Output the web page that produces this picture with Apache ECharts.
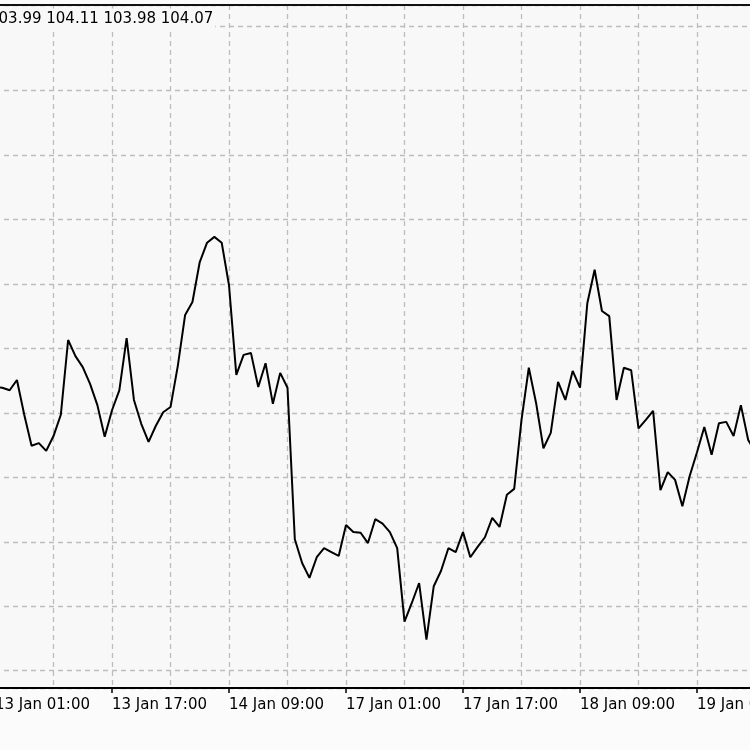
<!DOCTYPE html>
<html>
<head>
<meta charset="utf-8">
<script src="https://cdn.jsdelivr.net/npm/echarts@6/dist/echarts.min.js"></script>
<style>
html,body{margin:0;padding:0;background:#fbfbfb;}
#c{width:750px;height:750px;}
</style>
</head>
<body>
<div id="c"></div>
<script>
// hourly bars: [day label, first hour, last hour]
const dayRuns = [['13 Jan',1,23],['14 Jan',0,23],['17 Jan',0,23],['18 Jan',0,23],['19 Jan',0,9]];
const infoText = '103.99 104.11 103.98 104.07';
const closes = [
104.140,104.139,104.135,104.151,104.097,104.049,104.053,104.041,104.064,104.097,
104.213,104.188,104.171,104.145,104.112,104.063,104.104,104.135,104.216,104.120,
104.083,104.055,104.080,104.101,104.109,104.173,104.252,104.272,104.334,104.364,
104.373,104.364,104.298,104.159,104.190,104.193,104.140,104.177,104.114,104.162,
104.139,103.904,103.867,103.844,103.876,103.890,103.884,103.878,103.926,103.915,
103.914,103.898,103.935,103.928,103.915,103.890,103.776,103.805,103.836,103.748,
103.831,103.855,103.890,103.884,103.915,103.876,103.892,103.907,103.937,103.923,
103.973,103.982,104.089,104.170,104.115,104.045,104.069,104.148,104.120,104.165,
104.139,104.270,104.322,104.258,104.250,104.120,104.170,104.166,104.076,104.089,
104.103,103.980,104.008,103.996,103.955,104.002,104.039,104.078,104.035,104.084,
104.086,104.064,104.112,104.058,104.039
];
const priceMin = 103.6731;
const priceMax = 104.7328;

const categories = [];
dayRuns.forEach(function(r){
  for (let h = r[1]; h <= r[2]; h++) {
    categories.push(r[0] + ' ' + (h < 10 ? '0' : '') + h + ':00');
  }
});

const FONT = 'DejaVu Sans';
const chart = echarts.init(document.getElementById('c'), null, {renderer:'canvas'});
chart.setOption({
  animation: false,
  backgroundColor: '#fbfbfb',
  grid: {
    left: -5, top: 5, width: 760.5, height: 683,
    show: true, backgroundColor: '#f8f8f8', borderColor: '#111', borderWidth: 2,
    containLabel: false, outerBoundsMode: 'none'
  },
  xAxis: [{
    type: 'category',
    data: categories,
    boundaryGap: false,
    axisLine: {show: true, lineStyle: {color: '#000', width: 1.8}},
    axisTick: {show: true, interval: 15, length: 5, lineStyle: {color: '#000', width: 1.5}},
    axisLabel: {
      show: true, interval: 15, align: 'left', margin: 10,
      color: '#000', fontFamily: FONT, fontSize: 15,
      formatter: function(v){ return v; }
    },
    splitLine: {show: true, interval: 7, lineStyle: {color: '#bdbdbd', type: [5,4], width: 1.3}}
  }, {
    type: 'category',
    data: categories,
    position: 'top',
    boundaryGap: false,
    axisLine: {show: true, lineStyle: {color: '#111', width: 2}},
    axisTick: {show: false}, axisLabel: {show: false}, splitLine: {show: false},
    z: 20
  }],
  yAxis: {
    type: 'value',
    min: priceMin, max: priceMax, splitNumber: 10, scale: true,
    axisLine: {show: false}, axisTick: {show: false}, axisLabel: {show: false},
    splitLine: {show: true, lineStyle: {color: '#bdbdbd', type: [5,4], width: 1.3}}
  },
  series: [{
    type: 'line',
    data: closes,
    showSymbol: false,
    symbol: 'none',
    lineStyle: {color: '#000', width: 2},
    z: 5
  }],
  graphic: [{
    type: 'text',
    z: 100,
    style: {
      text: infoText,
      x: -11, y: 19,
      verticalAlign: 'middle',
      font: '15px "DejaVu Sans"',
      fill: '#000',
      backgroundColor: '#f8f8f8',
      padding: [3, 2, 3, 0]
    }
  }]
});
</script>
</body>
</html>
